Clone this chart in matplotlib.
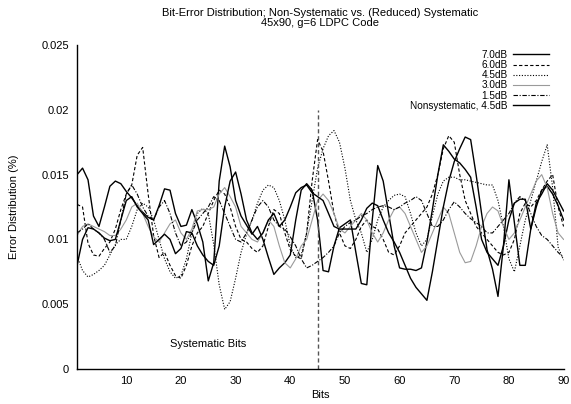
import numpy as np
import matplotlib
matplotlib.use("Agg")
import matplotlib.pyplot as plt

plt.rcParams['font.family'] = ['Liberation Sans', 'DejaVu Sans']

bits = np.arange(1, 91)

# error distribution per bit position (values in units of 1e-3)
snr_7_0 = [15.0, 15.5, 14.6, 11.8, 11.0, 12.5, 14.1, 14.5, 14.3, 13.7,
           13.2, 12.6, 12.1, 11.7, 11.5, 12.6, 13.9, 13.8, 12.0, 11.0,
           11.1, 12.3, 11.2, 9.8, 6.8, 8.2, 14.5, 17.2, 15.6, 13.0,
           11.8, 11.1, 10.4, 11.0, 10.0, 8.6, 7.3, 7.8, 8.2, 8.8,
           11.5, 13.8, 14.3, 13.8, 11.5, 7.6, 7.5, 9.5, 10.9, 11.2,
           11.5, 9.0, 6.6, 6.5, 11.5, 15.7, 14.5, 12.0, 9.5, 7.8,
           7.7, 7.7, 7.6, 7.8, 9.8, 12.3, 15.0, 17.3, 16.8, 16.2,
           15.9, 15.4, 14.8, 12.5, 10.0, 9.0, 8.5, 8.0, 9.5, 11.5,
           12.8, 13.1, 13.1, 10.8, 12.5, 13.8, 14.1, 13.5, 12.6, 11.5]

snr_6_0 = [12.7, 12.5, 9.7, 8.8, 8.7, 9.3, 9.8, 10.8, 12.3, 13.5,
           14.2, 16.5, 17.1, 13.5, 10.3, 8.6, 9.0, 8.0, 7.2, 7.0,
           8.0, 9.5, 10.5, 11.0, 12.0, 13.0, 13.8, 13.5, 12.5, 11.0,
           10.0, 9.8, 9.3, 9.0, 9.5, 11.0, 12.3, 12.0, 10.5, 9.2,
           8.7, 8.5, 10.5, 14.5, 17.7, 16.8, 14.5, 12.0, 10.5, 9.5,
           9.3, 10.0, 11.0, 11.5, 11.0, 10.8, 10.0, 9.0, 8.8, 9.5,
           10.5, 11.0, 11.5, 12.0, 12.5, 13.5, 15.0, 17.0, 18.0, 17.5,
           15.0, 13.0, 12.0, 11.0, 10.5, 10.0, 9.5, 9.0, 8.8, 9.0,
           10.0, 12.0, 12.8, 12.5, 13.0, 13.8, 14.5, 15.0, 12.5, 11.0]

snr_4_5 = [8.7, 7.6, 7.1, 7.3, 7.6, 8.0, 8.8, 9.6, 10.0, 10.0,
           11.0, 12.3, 12.8, 12.5, 11.5, 10.0, 8.5, 7.5, 7.0, 7.2,
           8.5, 10.5, 12.0, 12.4, 12.0, 9.6, 6.5, 4.6, 5.2, 7.0,
           9.0, 10.4, 11.5, 12.8, 13.8, 14.2, 14.0, 13.0, 11.5, 9.5,
           8.6, 8.8, 10.5, 13.0, 15.5, 17.0, 18.0, 18.4, 17.5, 15.5,
           13.0, 11.5, 10.5, 9.0, 10.0, 11.5, 12.5, 13.0, 13.4, 13.5,
           13.3, 12.0, 10.5, 9.5, 10.0, 11.8, 13.5, 14.5, 14.8, 14.8,
           14.6, 14.6, 14.5, 14.4, 14.3, 14.2, 14.2, 13.0, 11.0, 8.5,
           7.5, 9.5, 11.5, 13.0, 14.5, 16.0, 17.3, 14.0, 9.4, 8.4]

snr_3_0 = [10.3, 11.0, 11.2, 11.0, 10.8, 10.6, 10.3, 10.3, 10.8, 11.5,
           12.5, 12.8, 12.0, 11.0, 10.2, 9.8, 10.5, 11.2, 11.5, 10.5,
           10.0, 10.8, 12.2, 12.3, 12.3, 12.5, 13.5, 14.0, 13.3, 12.5,
           11.0, 10.5, 10.0, 9.8, 10.5, 11.5, 11.0, 9.5, 8.2, 7.8,
           8.5, 9.5, 10.0, 11.5, 13.0, 13.5, 13.0, 12.0, 10.8, 10.5,
           11.0, 11.5, 12.0, 11.5, 10.5, 9.8, 10.5, 11.5, 12.3, 12.5,
           12.0, 11.0, 10.0, 9.0, 9.5, 10.5, 11.5, 12.5, 12.0, 10.5,
           9.0, 8.2, 8.3, 9.5, 11.0, 12.0, 12.5, 12.2, 11.0, 10.0,
           10.5, 11.5, 12.5, 13.5, 14.5, 15.0, 14.0, 12.0, 10.5, 10.0]

snr_1_5 = [10.5, 10.8, 11.2, 10.8, 10.5, 10.0, 9.0, 9.5, 11.5, 13.5,
           14.2, 13.5, 12.5, 11.8, 11.5, 12.5, 13.0, 12.0, 10.5, 9.5,
           9.8, 10.5, 11.5, 12.0, 12.5, 13.3, 13.0, 12.0, 11.0, 10.0,
           9.8, 10.5, 11.5, 12.5, 13.0, 12.5, 11.5, 11.0, 10.8, 10.2,
           9.5, 8.5, 7.8, 8.0, 8.3, 8.6, 9.0, 9.5, 10.5, 11.0,
           11.3, 11.5, 11.8, 12.0, 12.3, 12.5, 12.6, 12.5, 12.3, 12.5,
           12.8, 13.0, 13.3, 13.0, 12.0, 11.0, 11.0, 11.5, 12.3, 12.9,
           12.5, 12.0, 11.6, 11.3, 11.0, 10.5, 10.5, 11.0, 11.5, 12.0,
           12.8, 13.3, 13.0, 12.0, 11.0, 10.3, 10.0, 9.5, 9.0, 8.6]

nonsys_4_5 = [8.0, 10.0, 10.9, 10.8, 10.5, 10.1, 9.9, 10.0, 11.5, 13.0,
              13.3, 12.5, 12.0, 11.5, 9.6, 10.0, 10.4, 10.0, 8.9, 9.3,
              10.6, 10.5, 9.5, 8.8, 8.3, 8.0, 9.5, 12.5, 14.5, 15.2,
              13.5, 11.5, 10.5, 10.0, 10.5, 11.5, 12.0, 11.0, 11.5, 12.5,
              13.6, 14.0, 14.2, 13.6, 13.3, 13.0, 12.0, 11.0, 10.8, 10.8,
              10.8, 10.8, 11.5, 12.4, 12.8, 12.6, 11.5, 10.5, 9.8, 9.0,
              8.0, 7.0, 6.3, 5.8, 5.3, 7.5, 10.0, 12.5, 14.5, 16.0,
              17.0, 17.9, 17.7, 15.0, 12.0, 9.2, 7.7, 5.6, 9.5, 14.6,
              11.3, 8.0, 8.0, 10.8, 12.8, 13.5, 14.3, 13.8, 13.0, 12.2]

series = [
    ("7.0dB", snr_7_0, dict(color='black', lw=1.0, ls='-')),
    ("6.0dB", snr_6_0, dict(color='black', lw=0.8, ls=(0, (3, 2)))),
    ("4.5dB", snr_4_5, dict(color='black', lw=0.8, ls=(0, (1, 1.5)))),
    ("3.0dB", snr_3_0, dict(color='#9a9a9a', lw=0.8, ls='-')),
    ("1.5dB", snr_1_5, dict(color='black', lw=0.8, ls=(0, (4, 1.5, 1, 1.5)))),
    ("Nonsystematic, 4.5dB", nonsys_4_5, dict(color='black', lw=1.0, ls='-')),
]

FS = 8

fig = plt.figure(figsize=(5.71, 4.04), dpi=100)
ax = fig.add_axes([0.135, 0.0866, 0.852, 0.802])

for label, vals, style in series:
    ax.plot(bits, np.array(vals) * 1e-3, label=label, **style)

# boundary between systematic and parity bits
ax.vlines(45, 0, 0.02, colors='#555555', linestyles=(0, (3, 2)), lw=1.0)
ax.text(25, 0.0019, "Systematic Bits", ha='center', va='center', fontsize=FS)

ax.set_xlim(1, 90)
ax.set_ylim(0, 0.025)
ax.set_xticks([10, 20, 30, 40, 50, 60, 70, 80, 90])
ax.set_yticks([0, 0.005, 0.01, 0.015, 0.02, 0.025])
ax.set_yticklabels(["0", "0.005", "0.01", "0.015", "0.02", "0.025"])
ax.tick_params(length=0, labelsize=FS)
ax.tick_params(axis='y', pad=6)
ax.tick_params(axis='x', pad=5)

for side in ('top', 'right'):
    ax.spines[side].set_visible(False)
for side in ('left', 'bottom'):
    ax.spines[side].set_linewidth(1.0)

ax.set_xlabel("Bits", fontsize=FS, labelpad=3)
ax.set_ylabel("Error Distribution (%)", fontsize=FS, labelpad=16)
ax.set_title("Bit-Error Distribution; Non-Systematic vs. (Reduced) Systematic\n"
             "45x90, g=6 LDPC Code", fontsize=FS, pad=14, linespacing=1.0)

ax.legend(loc='upper right', bbox_to_anchor=(0.97, 0.985), frameon=False,
          markerfirst=False, fontsize=7.2, handlelength=3.6, handletextpad=0.5,
          labelspacing=0.02, borderpad=0, borderaxespad=0)

fig.savefig("out.png", dpi=100)
